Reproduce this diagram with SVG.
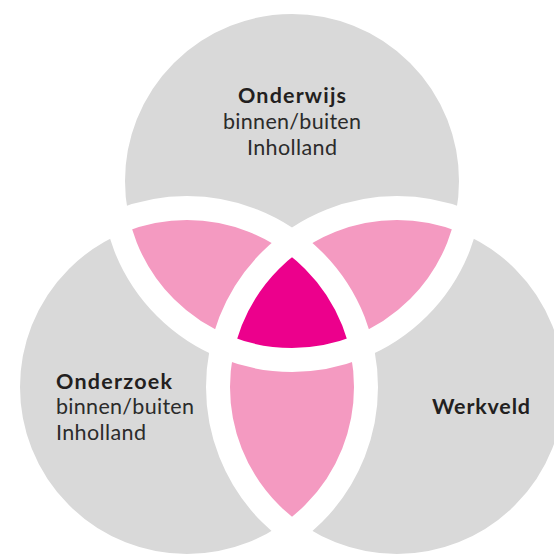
<svg xmlns="http://www.w3.org/2000/svg" width="554" height="554" viewBox="0 0 554 554">
<style>
.grey{fill:#d9d9d9}
.pink{fill:#f49ac1}
.mag{fill:#ec008c}
.band{fill:none;stroke:#ffffff;stroke-width:24}
.t{font-family:Lato,"Open Sans",sans-serif;font-size:21.5px;fill:#2b2b2b}
.b{font-weight:bold;fill:#231f20}
</style>
<defs>
<clipPath id="cT"><circle cx="292" cy="181" r="179"/></clipPath>
<clipPath id="cL"><circle cx="187" cy="387" r="179"/></clipPath>
<clipPath id="cR"><circle cx="397" cy="387" r="179"/></clipPath>
</defs>
<rect width="554" height="554" fill="#ffffff"/>
<g id="onderwijs"><circle class="grey" cx="292" cy="181" r="179"/></g>
<g id="onderzoek"><circle class="grey" cx="187" cy="387" r="179"/></g>
<g id="werkveld"><circle class="grey" cx="397" cy="387" r="179"/></g>
<g id="overlaps">
<g clip-path="url(#cT)"><circle class="pink" cx="187" cy="387" r="179"/><circle class="pink" cx="397" cy="387" r="179"/></g>
<g clip-path="url(#cL)"><circle class="pink" cx="397" cy="387" r="179"/></g>
<g clip-path="url(#cT)"><g clip-path="url(#cL)"><circle class="mag" cx="397" cy="387" r="179"/></g></g>
</g>
<g id="connectors">
<circle class="band" cx="292" cy="181" r="179"/>
<circle class="band" cx="187" cy="387" r="179"/>
<circle class="band" cx="397" cy="387" r="179"/>
</g>
<g id="labels">
<text class="t b" x="292" y="103" text-anchor="middle" textLength="108" lengthAdjust="spacing">Onderwijs</text>
<text class="t" x="292" y="129" text-anchor="middle" textLength="138" lengthAdjust="spacing">binnen/buiten</text>
<text class="t" x="292" y="155" text-anchor="middle" textLength="90" lengthAdjust="spacing">Inholland</text>
<text class="t b" x="56" y="389" textLength="116" lengthAdjust="spacing">Onderzoek</text>
<text class="t" x="56" y="414" textLength="138" lengthAdjust="spacing">binnen/buiten</text>
<text class="t" x="56" y="440" textLength="90" lengthAdjust="spacing">Inholland</text>
<text class="t b" x="432" y="414" textLength="98" lengthAdjust="spacing">Werkveld</text>
</g>
</svg>
